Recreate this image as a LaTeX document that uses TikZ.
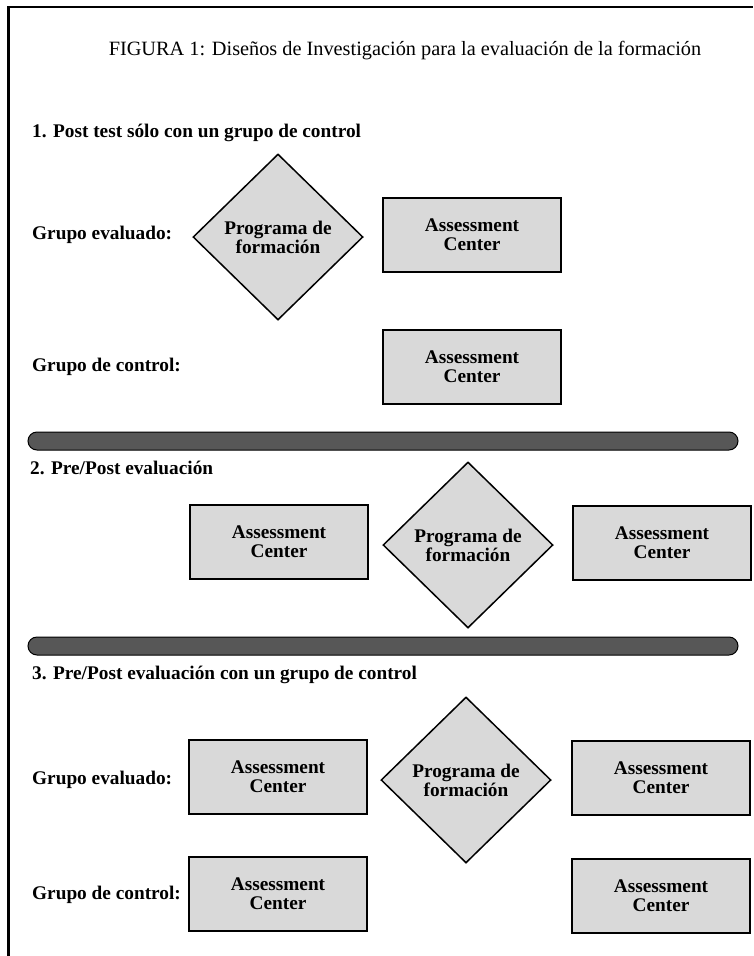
\documentclass[tikz,border=0pt]{standalone}
\usepackage{fontspec}
\setmainfont{Liberation Serif}
\usetikzlibrary{shapes.geometric}
\tikzset{
  txtfont/.style={font=\fontsize{19.3}{19}\selectfont\bfseries},
  acbox/.style={draw=black, line width=1.6pt, fill=black!15, minimum width=178pt, minimum height=74pt, inner sep=0pt, align=center, txtfont},
  progdiam/.style={diamond, draw=black, line width=1.5pt, fill=black!15, minimum width=170pt, minimum height=166pt, inner sep=0pt, align=center, txtfont},
  lbl/.style={anchor=west, inner sep=0pt, txtfont},
  sepbar/.style={draw=black, line width=1pt, fill=black!66, rounded corners=9pt, minimum width=710pt, minimum height=18pt, inner sep=0pt},
}
\begin{document}
\begin{tikzpicture}[x=1pt,y=-1pt]
\useasboundingbox (0,0) rectangle (753,956);
\fill[white] (0,0) rectangle (753,956);
% frame (left and top edges)
\draw[line width=2.8pt] (8.5,956) -- (8.5,7) -- (753,7);
% title
\node[inner sep=0pt, font=\fontsize{20.3}{24}\selectfont] (title) at (405,51) {FIGURA 1: Diseños de Investigación para la evaluación de la formación};

% section 1
\node[lbl] (h1) at (32,133) {1. Post test sólo con un grupo de control};
\node[lbl] (g1e) at (32,235) {Grupo evaluado:};
\node[progdiam] (d1) at (278,237) {Programa de\\formación};
\node[acbox] (b1a) at (472,235) {Assessment\\Center};
\node[lbl] (g1c) at (32,367) {Grupo de control:};
\node[acbox] (b1b) at (472,367) {Assessment\\Center};

\node[sepbar] (bar1) at (383,441) {};

% section 2
\node[lbl] (h2) at (30,468) {2. Pre/Post evaluación};
\node[acbox] (b2a) at (279,542) {Assessment\\Center};
\node[progdiam] (d2) at (468,545) {Programa de\\formación};
\node[acbox] (b2b) at (662,543) {Assessment\\Center};

\node[sepbar] (bar2) at (383,646) {};

% section 3
\node[lbl] (h3) at (32,675) {3. Pre/Post evaluación con un grupo de control};
\node[lbl] (g3e) at (32,780) {Grupo evaluado:};
\node[acbox] (b3a) at (278,777) {Assessment\\Center};
\node[progdiam] (d3) at (466,780) {Programa de\\formación};
\node[acbox] (b3b) at (661,778) {Assessment\\Center};
\node[lbl] (g3c) at (32,895) {Grupo de control:};
\node[acbox] (b3c) at (278,894) {Assessment\\Center};
\node[acbox] (b3d) at (661,896) {Assessment\\Center};
\end{tikzpicture}
\end{document}
